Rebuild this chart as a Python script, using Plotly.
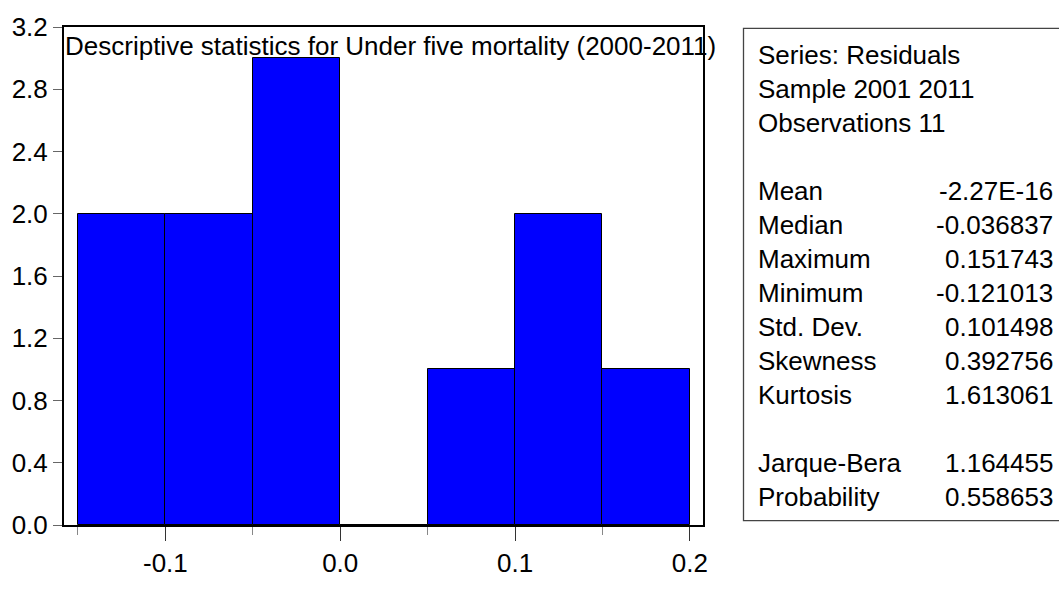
import plotly.graph_objects as go

# Histogram of residuals: bin edges and counts per bin
bin_left = [-0.15, -0.10, -0.05, 0.00, 0.05, 0.10, 0.15]
bin_width = 0.05
counts = [2, 2, 3, 0, 1, 2, 1]

title_text = "Descriptive statistics for Under five mortality (2000-2011)"

header_lines = ["Series: Residuals", "Sample 2001 2011", "Observations 11"]
stat_labels = ["Mean", "Median", "Maximum", "Minimum", "Std. Dev.",
               "Skewness", "Kurtosis"]
stat_values = ["-2.27E-16", "-0.036837", "0.151743", "-0.121013",
               "0.101498", "0.392756", "1.613061"]
test_labels = ["Jarque-Bera", "Probability"]
test_values = ["1.164455", "0.558653"]

y_ticks = [0.0, 0.4, 0.8, 1.2, 1.6, 2.0, 2.4, 2.8, 3.2]
x_ticks = [-0.1, 0.0, 0.1, 0.2]

FONT = "Liberation Sans, Arial, sans-serif"
W, H = 1059, 590
ML, MR, MT, MB = 64, 356, 23, 49
PW, PH = W - ML - MR, H - MT - MB


def px_x(p):
    return (p - ML) / PW


def px_y(p):
    return (H - MB - p) / PH


centers = [b + bin_width / 2 for b in bin_left]

fig = go.Figure()
fig.add_trace(go.Bar(
    x=centers, y=counts, width=[bin_width] * len(counts),
    marker=dict(color="#0000FF", line=dict(color="black", width=1)),
    hoverinfo="skip", showlegend=False,
))

annotations = [dict(
    text=title_text, xref="paper", yref="paper",
    x=px_x(63), y=px_y(51.7 - 0.35 * 26), xanchor="left", yanchor="middle",
    showarrow=False, font=dict(family=FONT, size=26, color="black"),
)]

# Summary statistics panel
rows = []
for t in header_lines:
    rows.append((t, None))
rows.append(("", None))
for lab, val in zip(stat_labels, stat_values):
    rows.append((lab, val))
rows.append(("", None))
for lab, val in zip(test_labels, test_values):
    rows.append((lab, val))

base0, step, fs = 61.0, 35.36, 26
for i, (lab, val) in enumerate(rows):
    if not lab:
        continue
    yc = px_y(base0 + i * step - 0.35 * fs)
    annotations.append(dict(
        text=lab, xref="paper", yref="paper", x=px_x(756), y=yc,
        xanchor="left", yanchor="middle", showarrow=False,
        font=dict(family=FONT, size=fs, color="black")))
    if val is not None:
        annotations.append(dict(
            text=val, xref="paper", yref="paper", x=px_x(1055), y=yc,
            xanchor="right", yanchor="middle", showarrow=False,
            font=dict(family=FONT, size=fs, color="black")))

shapes = [dict(
    type="rect", xref="paper", yref="paper",
    x0=px_x(743.5), x1=px_x(1070), y0=px_y(536.5), y1=px_y(24.5),
    line=dict(color="#444444", width=1.3), fillcolor="rgba(0,0,0,0)",
    layer="above")]

fig.update_layout(
    width=W, height=H,
    margin=dict(l=ML, r=MR, t=MT, b=MB, pad=0),
    paper_bgcolor="white", plot_bgcolor="white",
    bargap=0,
    font=dict(family=FONT, size=26, color="black"),
    xaxis=dict(
        range=[-0.158, 0.2075], tickvals=x_ticks,
        ticktext=[f"{v:.1f}" for v in x_ticks],
        ticks="outside", ticklen=14, tickwidth=1, tickcolor="#333333",
        showgrid=False, zeroline=False,
        showline=True, linecolor="black", linewidth=2, mirror=True,
        minor=dict(tickvals=[-0.15, -0.05, 0.05, 0.15], ticks="outside",
                   ticklen=8, tickcolor="#888888", tickwidth=1,
                   showgrid=False),
        tickfont=dict(family=FONT, size=26, color="black"),
        fixedrange=True,
    ),
    yaxis=dict(
        range=[0, 3.2], tickvals=y_ticks,
        ticktext=[f"{v:.1f}" for v in y_ticks],
        ticks="outside", ticklen=9, tickwidth=1, tickcolor="#666666",
        showgrid=False, zeroline=False,
        showline=True, linecolor="black", linewidth=2, mirror=True,
        tickfont=dict(family=FONT, size=26, color="black"),
        fixedrange=True,
    ),
    annotations=annotations,
    shapes=shapes,
)

fig.write_html("out.html", config={"displayModeBar": False})
